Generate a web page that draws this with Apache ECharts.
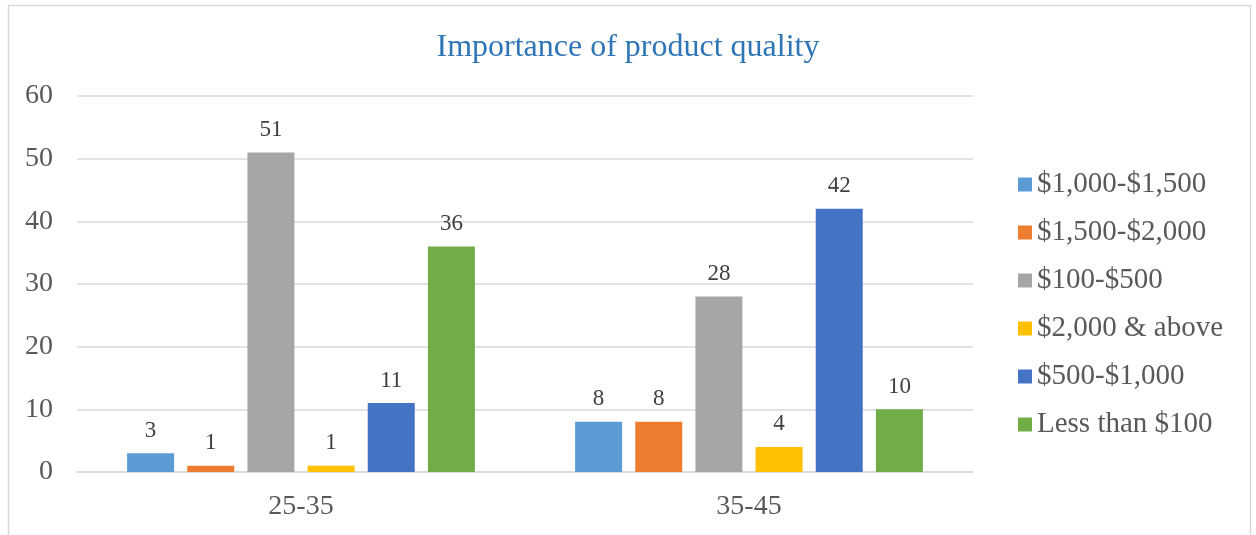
<!DOCTYPE html>
<html>
<head>
<meta charset="utf-8">
<script src="https://cdn.jsdelivr.net/npm/echarts@6/dist/echarts.min.js"></script>
<style>html,body{margin:0;padding:0;background:#fff}#c{width:1256px;height:535px}</style>
</head>
<body>
<div id="c"></div>
<script>
const categories = ['25-35', '35-45'];
const seriesNames = ['$1,000-$1,500', '$1,500-$2,000', '$100-$500', '$2,000 & above', '$500-$1,000', 'Less than $100'];
const s1000_1500 = [3, 8];
const s1500_2000 = [1, 8];
const s100_500 = [51, 28];
const s2000_above = [1, 4];
const s500_1000 = [11, 42];
const sLess100 = [36, 10];
const yTicks = [0, 10, 20, 30, 40, 50, 60];
const colors = ['#5b9bd5', '#ed7d31', '#a5a5a5', '#ffc000', '#4472c4', '#70ad47'];
const values = [s1000_1500, s1500_2000, s100_500, s2000_above, s500_1000, sLess100];

const font = '"Liberation Serif", "Times New Roman", serif';
const chart = echarts.init(document.getElementById('c'));
chart.setOption({
  animation: false,
  color: colors,
  title: {
    text: 'Importance of product quality',
    left: 'center',
    top: 27,
    textStyle: { fontFamily: font, fontSize: 32, fontWeight: 'normal', color: '#2e75b6' }
  },
  graphic: [{
    type: 'rect',
    shape: { x: 8.5, y: 5.5, width: 1242, height: 540 },
    style: { fill: 'none', stroke: '#d9d9d9', lineWidth: 1.5 },
    silent: true
  }],
  legend: {
    orient: 'vertical',
    left: 1013,
    top: 165,
    itemWidth: 14,
    itemHeight: 14,
    itemGap: 19,
    icon: 'rect',
    data: seriesNames,
    textStyle: { fontFamily: font, fontSize: 29, color: '#595959' }
  },
  grid: { left: 77, right: 283, top: 96, bottom: 63, containLabel: false },
  xAxis: {
    type: 'category',
    data: categories,
    axisTick: { show: false },
    axisLine: { lineStyle: { color: '#d9d9d9', width: 1.5 } },
    axisLabel: { fontFamily: font, fontSize: 28, color: '#595959', margin: 21 }
  },
  yAxis: {
    type: 'value',
    min: yTicks[0],
    max: yTicks[yTicks.length - 1],
    interval: 10,
    axisLine: { show: false },
    axisTick: { show: false },
    splitLine: { lineStyle: { color: '#d9d9d9', width: 1.5 } },
    axisLabel: { fontFamily: font, fontSize: 28, color: '#595959', margin: 24 }
  },
  series: seriesNames.map((name, i) => ({
    name: name,
    type: 'bar',
    data: values[i],
    barWidth: 47,
    barGap: '28%',
    label: {
      show: true,
      position: 'top',
      distance: 11,
      fontFamily: font,
      fontSize: 23,
      color: '#404040'
    }
  }))
});
</script>
</body>
</html>
